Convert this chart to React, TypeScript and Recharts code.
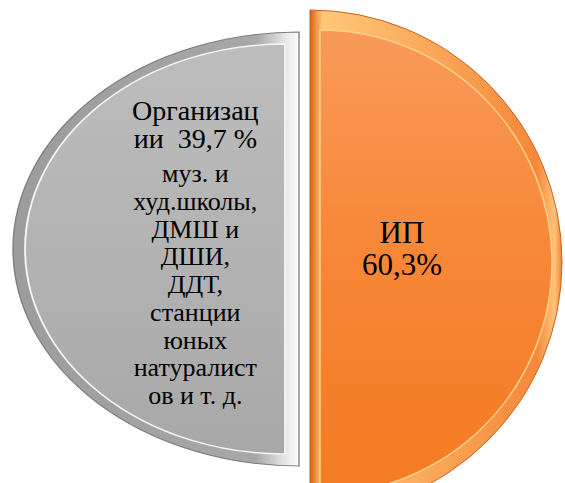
import React from 'react';
import { PieChart, Pie, Cell } from 'recharts';

// Shares of the two groups (percent)
const categories = ['Организации', 'ИП'];
const shares = [39.7, 60.3];

// Label text, line by line, as in the original slide
const orgTitleLines = ['Организац', `ии  ${String(shares[0]).replace('.', ',')} %`];
const orgDetailLines = ['муз. и', 'худ.школы,', 'ДМШ и', 'ДШИ,', 'ДДТ,', 'станции', 'юных', 'натуралист', 'ов и т. д.'];
const ipLines = [categories[1], `${String(shares[1]).replace('.', ',')}%`];

const FONT = '"Liberation Serif", Tinos, serif';
const W = 565;
const H = 483;

const GRAY = { cx: 299, cy: 249, r: 217, sx: 1.318 };
const GRAY_FACE = { cx: 285, cy: 249, r: 205, sx: 1.268 };
const ORANGE = { cx: 310, cy: 262, r: 252 };
const ORANGE_FACE = { cx: 320, cy: 262, r: 232 };

const orgData = [{ name: categories[0], value: shares[0] }];
const ipData = [{ name: categories[1], value: shares[1] }];

const css = `
body { margin: 0; }
.pie-gray .recharts-sector { transform-box: view-box; transform-origin: ${GRAY.cx}px ${GRAY.cy}px; transform: scaleX(${GRAY.sx}); }
.pie-gray-face .recharts-sector { transform-box: view-box; transform-origin: ${GRAY_FACE.cx}px ${GRAY_FACE.cy}px; transform: scaleX(${GRAY_FACE.sx}); }
.recharts-sector:focus, .recharts-pie:focus { outline: none; }
.slice-label, .slice-label * { font-family: ${FONT} !important; }
`;

// label anchor points, taken from the slice geometry (fraction of the radius from the centre)
const orgLabelX = GRAY_FACE.cx - GRAY_FACE.r * GRAY_FACE.sx * 0.345;
const ipLabelX = ORANGE.cx + ORANGE.r * 0.365;

const LabelBlock = ({ x, top, lines, size, lh }: { x: number; top: number; lines: string[]; size: number; lh: number }) => (
  <div
    className="slice-label"
    style={{
      position: 'absolute',
      left: x - 120,
      top,
      width: 240,
      textAlign: 'center',
      fontFamily: FONT,
      fontSize: size,
      lineHeight: `${lh}px`,
      color: '#000',
      whiteSpace: 'pre',
      pointerEvents: 'none',
    }}
  >
    {lines.map((line, i) => (
      <div key={i}>{line}</div>
    ))}
  </div>
);

export default function App() {
  return (
    <div style={{ position: 'relative', width: W, height: H, background: '#fff' }}>
      <style>{css}</style>
      <PieChart width={W} height={H} margin={{ top: 0, right: 0, bottom: 0, left: 0 }}>
        <defs>
          <linearGradient id="grayRim" x1="0" y1="0" x2="1" y2="0">
            <stop offset="0" stopColor="#9c9c9c" />
            <stop offset="0.85" stopColor="#a8a8a8" />
            <stop offset="0.95" stopColor="#e6e6e6" />
            <stop offset="1" stopColor="#ffffff" />
          </linearGradient>
          <linearGradient id="grayFace" x1="0" y1="0" x2="0" y2="1">
            <stop offset="0" stopColor="#bdbdbd" />
            <stop offset="0.5" stopColor="#b3b3b3" />
            <stop offset="1" stopColor="#a8a8a8" />
          </linearGradient>
          <linearGradient id="orangeRim" x1="0" y1="0" x2="1" y2="0">
            <stop offset="0" stopColor="#c9631f" />
            <stop offset="0.02" stopColor="#f08a3c" />
            <stop offset="0.05" stopColor="#ffc878" />
            <stop offset="0.9" stopColor="#f5883a" />
            <stop offset="0.97" stopColor="#ffc27a" />
            <stop offset="1" stopColor="#ef8636" />
          </linearGradient>
          <linearGradient id="orangeFace" x1="0" y1="0" x2="0" y2="1">
            <stop offset="0" stopColor="#f99a5a" />
            <stop offset="0.45" stopColor="#f78838" />
            <stop offset="1" stopColor="#f47b22" />
          </linearGradient>
        </defs>

        {/* Организации: outer rim and face, stretched into a half ellipse by CSS */}
        <Pie
          className="pie-gray"
          data={orgData}
          dataKey="value"
          cx={GRAY.cx}
          cy={GRAY.cy}
          outerRadius={GRAY.r}
          startAngle={90}
          endAngle={270}
          stroke="#7c7c7c"
          strokeWidth={1}
          isAnimationActive={false}
          labelLine={false}
        >
          {orgData.map((d) => (
            <Cell key={d.name} fill="url(#grayRim)" />
          ))}
        </Pie>
        <Pie
          className="pie-gray-face"
          data={orgData}
          dataKey="value"
          cx={GRAY_FACE.cx}
          cy={GRAY_FACE.cy}
          outerRadius={GRAY_FACE.r}
          startAngle={90}
          endAngle={270}
          stroke="#f4f4f4"
          strokeWidth={1.5}
          isAnimationActive={false}
          labelLine={false}
        >
          {orgData.map((d) => (
            <Cell key={d.name} fill="url(#grayFace)" />
          ))}
        </Pie>

        {/* ИП: pulled out to the right */}
        <Pie
          data={ipData}
          dataKey="value"
          cx={ORANGE.cx}
          cy={ORANGE.cy}
          outerRadius={ORANGE.r}
          startAngle={90}
          endAngle={-90}
          stroke="#c9631f"
          strokeWidth={1}
          isAnimationActive={false}
          labelLine={false}
        >
          {ipData.map((d) => (
            <Cell key={d.name} fill="url(#orangeRim)" />
          ))}
        </Pie>
        <Pie
          data={ipData}
          dataKey="value"
          cx={ORANGE_FACE.cx}
          cy={ORANGE_FACE.cy}
          outerRadius={ORANGE_FACE.r}
          startAngle={90}
          endAngle={-90}
          stroke="#ffd08a"
          strokeWidth={1.5}
          isAnimationActive={false}
          labelLine={false}
        >
          {ipData.map((d) => (
            <Cell key={d.name} fill="url(#orangeFace)" />
          ))}
        </Pie>
      </PieChart>

      <LabelBlock x={orgLabelX} top={GRAY.cy - 152} lines={orgTitleLines} size={28} lh={28} />
      <LabelBlock x={orgLabelX} top={GRAY.cy - 89} lines={orgDetailLines} size={26} lh={27.75} />
      <LabelBlock x={ipLabelX} top={ORANGE.cy - 45} lines={ipLines} size={31} lh={32} />
    </div>
  );
}
